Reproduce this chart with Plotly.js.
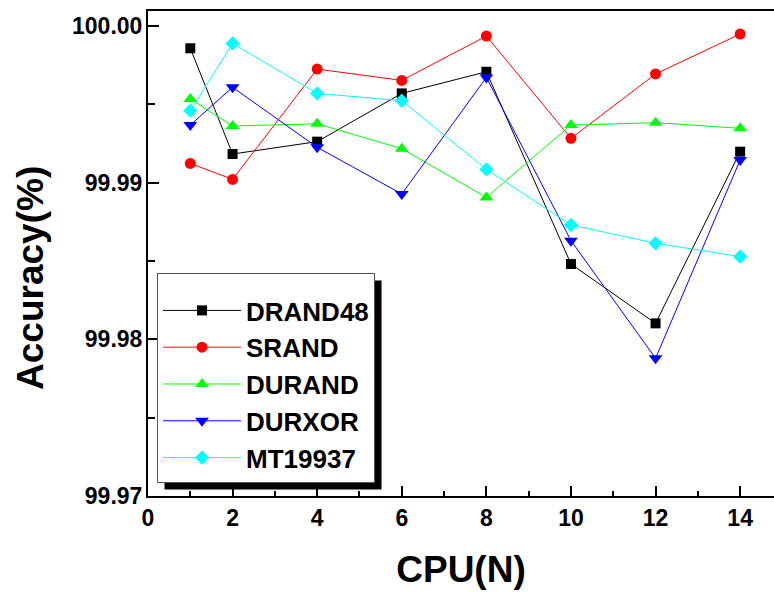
<!DOCTYPE html>
<html>
<head>
<meta charset="utf-8">
<script src="https://cdn.plot.ly/plotly-3.0.1.min.js"></script>
<style>html,body{margin:0;padding:0;overflow:hidden;background:#fff;}</style>
</head>
<body>
<div id="chart" style="width:774px;height:595px;"></div>
<script>
const cpus = [1, 2, 4, 6, 8, 10, 12, 14];
const drand48 = [99.99858, 99.99183, 99.99262, 99.99570, 99.99708, 99.98481, 99.98102, 99.99198];
const srand   = [99.99123, 99.99021, 99.99725, 99.99653, 99.99936, 99.99283, 99.99694, 99.99949];
const durand  = [99.99534, 99.99362, 99.99376, 99.99217, 99.98906, 99.99368, 99.99383, 99.99347];
const durxor  = [99.99368, 99.99609, 99.99226, 99.98928, 99.99672, 99.98630, 99.97879, 99.99145];
const mt19937 = [99.99460, 99.99889, 99.99570, 99.99523, 99.99085, 99.98730, 99.98613, 99.98528];
const seriesNames = ["DRAND48", "SRAND", "DURAND", "DURXOR", "MT19937"];
const xTitle = "CPU(N)";
const yTitle = "Accuracy(%)";

const values = [drand48, srand, durand, durxor, mt19937];
const colors = ["#000000", "#ff0000", "#00ff00", "#0000ff", "#00ffff"];
const symbols = ["square", "circle", "triangle-up", "triangle-down", "diamond"];
const sizes = [10, 11, 12, 12, 11];

const traces = values.map((v, i) => ({
  x: cpus, y: v, name: seriesNames[i], type: "scatter", mode: "lines+markers",
  line: {color: colors[i], width: 1},
  marker: {symbol: symbols[i], size: sizes[i], color: colors[i], line: {width: 0}}
}));

const fontFam = "Liberation Sans, Arial, sans-serif";
const W = 774, H = 595;
const M = {l: 148, r: 0, t: 11, b: 99, pad: 0};
const layout = {
  width: W, height: H,
  margin: M,
  paper_bgcolor: "#fff", plot_bgcolor: "#fff",
  font: {family: fontFam, color: "#000", weight: "bold"},
  showlegend: true,
  xaxis: {
    range: [0, 14.8], tick0: 0, dtick: 2, ticks: "inside", ticklen: 10, tickwidth: 2,
    tickcolor: "#000", showline: true, linewidth: 2, linecolor: "#000", mirror: true,
    showgrid: false, zeroline: false,
    tickfont: {size: 23, family: fontFam, weight: "bold"},
    minor: {dtick: 1, ticks: "inside", ticklen: 5, tickwidth: 2, tickcolor: "#000", showgrid: false},
    title: {text: xTitle, font: {size: 37, family: fontFam, weight: "bold"}, standoff: 27}
  },
  yaxis: {
    range: [99.97, 100.00096], tick0: 99.97, dtick: 0.01, tickformat: ".2f",
    ticks: "inside", ticklen: 11, tickwidth: 2, tickcolor: "#000",
    showline: true, linewidth: 2, linecolor: "#000", mirror: false,
    showgrid: false, zeroline: false, ticklabelstandoff: -1,
    tickfont: {size: 23, family: fontFam, weight: "bold"},
    minor: {dtick: 0.005, ticks: "inside", ticklen: 7, tickwidth: 2, tickcolor: "#000", showgrid: false}
  },
  annotations: [{
    text: yTitle, xref: "paper", yref: "paper", x: -0.187, y: 0.4495,
    xanchor: "center", yanchor: "middle", textangle: -90, showarrow: false,
    font: {size: 37, family: fontFam, weight: "bold", color: "#000"}
  }],
  legend: {
    x: 0.0144, y: 0.4598, xanchor: "left", yanchor: "top",
    bgcolor: "#fff", bordercolor: "#555", borderwidth: 1,
    font: {size: 26, family: fontFam, weight: "bold", color: "#000"},
    title: {text: " ", font: {size: 10}},
    itemwidth: 78, tracegroupgap: 0
  }
};

Plotly.newPlot("chart", traces, layout, {displayModeBar: false, staticPlot: true}).then(gd => {
  // drop-shadow behind the legend box, offset by 7px
  const bg = gd.querySelector(".legend .bg");
  const gdRect = gd.getBoundingClientRect();
  const r = bg.getBoundingClientRect();
  const pw = W - M.l - M.r, ph = H - M.t - M.b;
  const off = 7;
  const x0 = (r.left - gdRect.left + off - M.l) / pw;
  const x1 = (r.right - gdRect.left + off - M.l) / pw;
  const y1 = (H - M.b - (r.top - gdRect.top + off)) / ph;
  const y0 = (H - M.b - (r.bottom - gdRect.top + off)) / ph;
  return Plotly.relayout(gd, {shapes: [{
    type: "rect", xref: "paper", yref: "paper", layer: "above",
    x0: x0, x1: x1, y0: y0, y1: y1, fillcolor: "#000", line: {width: 0}
  }]});
});
</script>
</body>
</html>
